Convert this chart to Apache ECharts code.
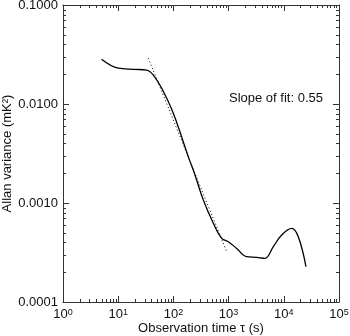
<!DOCTYPE html>
<html><head><meta charset="utf-8">
<script src="https://cdn.jsdelivr.net/npm/echarts@6/dist/echarts.min.js"></script>
<style>html,body{margin:0;padding:0;background:#fff}#c{width:350px;height:336px}</style>
</head><body><div id="c"></div>
<script>
// Observation time tau (s) and Allan variance (mK^2) of the measured curve
var tau = [5.0, 10.0, 18.8, 32.8, 43.2, 61.4, 99.6, 186, 246, 348, 529, 750, 988, 1400, 2130, 3230, 4560, 6460, 9160, 13900, 18300, 25200];
var allanVar = [0.0283, 0.0230, 0.0224, 0.0220, 0.0196, 0.0144, 0.00805, 0.00294, 0.00192, 0.00107, 0.000624, 0.000440, 0.000406, 0.000348, 0.000287, 0.000283, 0.000276, 0.000362, 0.000475, 0.000555, 0.000457, 0.000228];
// Fitted straight line (log-log) end points
var fitTau = [35.1, 924];
var fitVar = [0.0290, 0.000322];
// Axis ticks
var xMajor = [1, 10, 100, 1000, 10000, 100000];
var yMajor = [0.0001, 0.001, 0.01, 0.1];
var annotation = 'Slope of fit: 0.55';

function minors(majors){
  var out = [];
  for (var i = 0; i < majors.length - 1; i++)
    for (var m = 2; m <= 9; m++) out.push(majors[i] * m);
  return out;
}
var xMinor = minors(xMajor), yMinor = minors(yMajor);

var font = 'Liberation Sans, Arial, sans-serif';
var axCol = '#333';
var txt = '#111';
var xMin = xMajor[0], xMax = xMajor[xMajor.length-1];
var yMin = yMajor[0], yMax = yMajor[yMajor.length-1];
var majorTick = {show: true, inside: true, length: 6, lineStyle: {color: axCol, width: 1}};

var xMain = {
  type: 'log', logBase: 10, min: xMin, max: xMax, position: 'bottom',
  axisLine: {show: true, lineStyle: {color: axCol, width: 1}},
  axisTick: majorTick, splitLine: {show: false}, minorTick: {show: false},
  axisLabel: {
    show: true, margin: 6, color: txt, fontFamily: font, fontSize: 13,
    formatter: function(v){ return '{b|10}{s|' + Math.round(Math.log10(v)) + '}'; },
    rich: {b: {fontSize: 13, lineHeight: 13, fontFamily: font, color: txt, verticalAlign: 'bottom'},
           s: {fontSize: 9, lineHeight: 9, fontFamily: font, color: txt, verticalAlign: 'top'}}
  },
  name: 'Observation time \u03C4 (s)', nameLocation: 'middle', nameGap: 20, nameMoveOverlap: false,
  nameTextStyle: {fontFamily: font, fontSize: 13, color: txt}
};
var xTop = {type: 'log', logBase: 10, min: xMin, max: xMax, position: 'top',
  axisLine: {show: true, lineStyle: {color: axCol, width: 1}}, axisTick: majorTick,
  axisLabel: {show: false}, splitLine: {show: false}, minorTick: {show: false}};
var yMain = {
  type: 'log', logBase: 10, min: yMin, max: yMax, position: 'left',
  axisLine: {show: true, lineStyle: {color: axCol, width: 1}},
  axisTick: majorTick, splitLine: {show: false}, minorTick: {show: false},
  axisLabel: {show: true, margin: 5, color: txt, fontFamily: font, fontSize: 13,
    formatter: function(v){ return v.toFixed(4); }},
  name: 'Allan variance (mK\u00B2)', nameLocation: 'middle', nameGap: 49, nameMoveOverlap: false,
  nameTextStyle: {fontFamily: font, fontSize: 13, color: txt}
};
var yRight = {type: 'log', logBase: 10, min: yMin, max: yMax, position: 'right',
  axisLine: {show: true, lineStyle: {color: axCol, width: 1}}, axisTick: majorTick,
  axisLabel: {show: false}, splitLine: {show: false}, minorTick: {show: false}};

var chart = echarts.init(document.getElementById('c'), null, {renderer: 'canvas'});
chart.setOption({
  backgroundColor: '#fff',
  animation: false,
  grid: {left: 63, right: 11, top: 5, bottom: 34, containLabel: false, outerBoundsMode: 'none'},
  xAxis: [xMain, xTop],
  yAxis: [yMain, yRight],
  series: [
    {type: 'line', xAxisIndex: 0, yAxisIndex: 0, data: tau.map(function(t,i){return [t, allanVar[i]];}),
     smooth: 0.4, symbol: 'none', lineStyle: {color: '#000', width: 1.3}},
    {type: 'line', xAxisIndex: 0, yAxisIndex: 0, data: fitTau.map(function(t,i){return [t, fitVar[i]];}),
     symbol: 'none', lineStyle: {color: '#000', width: 1, type: [1, 2.5]}}
  ],
  graphic: [{type: 'text', x: 229, y: 92, style: {text: annotation, font: '13px ' + font, fill: txt}, z: 10}]
});

// minor ticks placed through the library's own axis scales, drawn as 1px rects
function px(axisKey, v){
  var f = {}; f[axisKey] = 0;
  var r = chart.convertToPixel(f, v);
  return Array.isArray(r) ? r[axisKey === 'xAxisIndex' ? 0 : 1] : r;
}
var done = false;
function addMinor(){
  if (done) return;
  var gx = px('xAxisIndex', xMin), gx2 = px('xAxisIndex', xMax);
  var gyB = px('yAxisIndex', yMin), gyT = px('yAxisIndex', yMax);
  if (!isFinite(gx) || !isFinite(gyB)) return;
  done = true;
  var els = [{type: 'text', x: 229, y: 92, style: {text: annotation, font: '13px ' + font, fill: txt}, z: 10}];
  var st = {fill: axCol};
  xMinor.forEach(function(v){
    var x = Math.round(px('xAxisIndex', v));
    els.push({type: 'rect', shape: {x: x, y: Math.round(gyB) - 3, width: 1, height: 3}, style: st, silent: true, z: 10});
    els.push({type: 'rect', shape: {x: x, y: Math.round(gyT), width: 1, height: 3}, style: st, silent: true, z: 10});
  });
  yMinor.forEach(function(v){
    var y = Math.round(px('yAxisIndex', v));
    els.push({type: 'rect', shape: {x: Math.round(gx), y: y, width: 3, height: 1}, style: st, silent: true, z: 10});
    els.push({type: 'rect', shape: {x: Math.round(gx2) - 3, y: y, width: 3, height: 1}, style: st, silent: true, z: 10});
  });
  chart.setOption({graphic: els}, {replaceMerge: ['graphic']});
}
addMinor();
chart.on('finished', addMinor);
</script></body></html>
